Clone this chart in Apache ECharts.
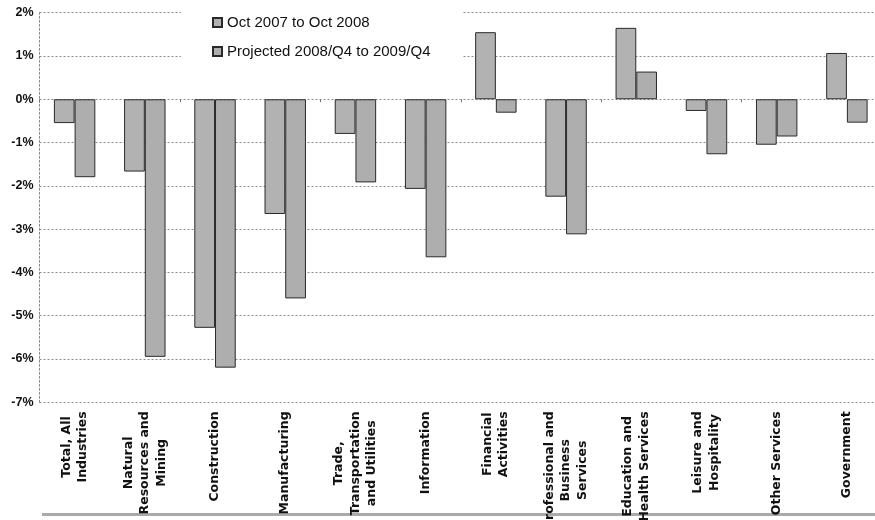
<!DOCTYPE html>
<html>
<head>
<meta charset="utf-8">
<script src="https://cdn.jsdelivr.net/npm/echarts@6/dist/echarts.min.js"></script>
<style>
html,body{margin:0;padding:0;background:#fff;}
#chart{width:875px;height:520px;}
</style>
</head>
<body>
<div id="chart"></div>
<script>
const categories = [
  "Total, All\nIndustries",
  "Natural\nResources and\nMining",
  "Construction",
  "Manufacturing",
  "Trade,\nTransportation\nand Utilities",
  "Information",
  "Financial\nActivities",
  "Professional and\nBusiness\nServices",
  "Education and\nHealth Services",
  "Leisure and\nHospitality",
  "Other Services",
  "Government"
];
const seriesNames = ["Oct 2007 to Oct 2008", "Projected 2008/Q4 to 2009/Q4"];
const oct2007to2008 = [-0.55, -1.67, -5.28, -2.65, -0.8, -2.07, 1.55, -2.25, 1.65, -0.27, -1.05, 1.07];
const projected2009 = [-1.8, -5.95, -6.2, -4.6, -1.92, -3.65, -0.31, -3.12, 0.64, -1.27, -0.86, -0.54];
const yTicks = { min: -7, max: 2, interval: 1 };

const chart = echarts.init(document.getElementById('chart'), null, {renderer: 'canvas'});
const font = 'Liberation Sans';
const gridLine = { color: '#8a8a8a', type: [2, 2], width: 1 };
chart.setOption({
  animation: false,
  backgroundColor: '#fff',
  textStyle: { fontFamily: font },
  grid: { left: 39.5, right: -7, top: 12.7, bottom: 117.7, containLabel: false, outerBoundsMode: 'none' },
  legend: {
    orient: 'vertical',
    left: 181, top: 0,
    padding: [15, 32, 12, 31],
    backgroundColor: '#fff',
    itemGap: 14,
    itemWidth: 9, itemHeight: 9,
    icon: 'rect',
    textStyle: { fontSize: 15, color: '#111', fontFamily: font },
    data: seriesNames,
    z: 10
  },
  xAxis: [
    {
      type: 'category',
      data: categories,
      position: 'bottom',
      axisLine: { show: false, onZero: false },
      axisTick: { show: false },
      axisLabel: {
        interval: 0, rotate: 90, margin: 9, hideOverlap: false,
        formatter: function (v) {
          return v.split('\n').map(function (l) { return '{c|' + l + '}'; }).join('\n');
        },
        rich: {
          c: {
            align: 'center', fontSize: 12.5, fontWeight: 'bold', color: '#111',
            lineHeight: 16.5, fontFamily: 'DejaVu Sans'
          }
        }
      },
      splitLine: { show: false }
    },
    {
      type: 'category',
      data: categories,
      position: 'bottom',
      axisLine: { show: false, onZero: true },
      axisTick: { show: true, length: 3, lineStyle: { color: '#777' } },
      axisLabel: { show: false },
      splitLine: { show: false }
    }
  ],
  yAxis: {
    type: 'value',
    min: yTicks.min, max: yTicks.max, interval: yTicks.interval,
    axisLine: { show: true, lineStyle: gridLine },
    axisTick: { show: false },
    axisLabel: {
      formatter: '{value}%', fontSize: 12.5, fontWeight: 'bold', color: '#111', margin: 6, fontFamily: font
    },
    splitLine: { show: true, lineStyle: gridLine }
  },
  graphic: [{
    type: 'rect',
    left: 42, top: 513,
    shape: { width: 833, height: 3 },
    style: { fill: '#aaaaaa' },
    silent: true
  }],
  series: [
    {
      name: seriesNames[0], type: 'bar', data: oct2007to2008,
      barGap: '0%', barCategoryGap: '41%',
      itemStyle: { color: '#b2b2b2', borderColor: '#2a2a2a', borderWidth: 1 }
    },
    {
      name: seriesNames[1], type: 'bar', data: projected2009,
      barGap: '0%', barCategoryGap: '41%',
      itemStyle: { color: '#aeaeae', borderColor: '#2a2a2a', borderWidth: 1 }
    }
  ]
});
</script>
</body>
</html>
